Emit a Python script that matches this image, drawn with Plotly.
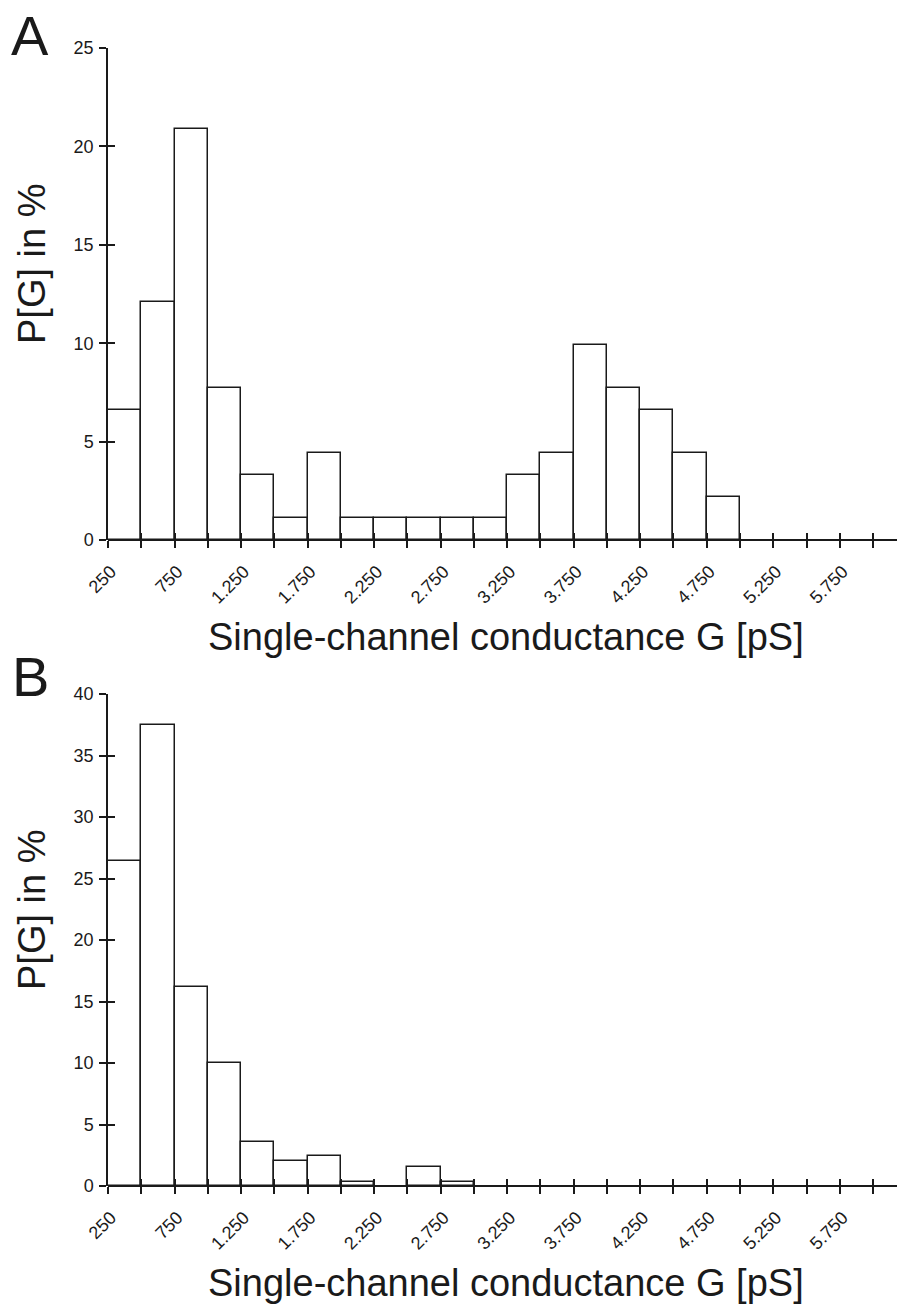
import plotly.graph_objects as go

# ---- data ----
bin_left = [250, 500, 750, 1000, 1250, 1500, 1750, 2000, 2250, 2500, 2750, 3000,
            3250, 3500, 3750, 4000, 4250, 4500, 4750, 5000, 5250, 5500, 5750]
bin_width = 250
panel_a = [6.6, 12.1, 20.9, 7.7, 3.3, 1.1, 4.4, 1.1, 1.1, 1.1, 1.1, 1.1,
           3.3, 4.4, 9.9, 7.7, 6.6, 4.4, 2.2, 0, 0, 0, 0]
panel_b = [26.4, 37.5, 16.2, 10.0, 3.6, 2.0, 2.4, 0.3, 0, 1.55, 0.3, 0,
           0, 0, 0, 0, 0, 0, 0, 0, 0, 0, 0]
x_tickvals = [250, 500, 750, 1000, 1250, 1500, 1750, 2000, 2250, 2500, 2750, 3000,
              3250, 3500, 3750, 4000, 4250, 4500, 4750, 5000, 5250, 5500, 5750, 6000]
x_ticktext = ["250", "", "750", "", "1.250", "", "1.750", "", "2.250", "", "2.750", "",
              "3.250", "", "3.750", "", "4.250", "", "4.750", "", "5.250", "", "5.750", ""]
ya_ticks = [0, 5, 10, 15, 20, 25]
yb_ticks = [0, 5, 10, 15, 20, 25, 30, 35, 40]
x_title = "Single-channel conductance G [pS]"
y_title = "P[G] in %"
panel_labels = ["A", "B"]

# page body has an 8px default margin; lay out in screen pixels and compensate
OFF = 8
W, H = 905 - OFF, 1304 - OFF
FONT = "Liberation Sans, Arial, sans-serif"
INK = "#1a1a1a"
x_range = [250, 6240]

def px(v):
    return (v - OFF) / W

def py(v):
    return (H - (v - OFF)) / H

dom_x = [px(108), 1.0]
dom_a = [py(540), py(48)]
dom_b = [py(1186), py(694)]

fig = go.Figure()
for vals, xa, ya in [(panel_a, "x", "y"), (panel_b, "x2", "y2")]:
    fig.add_trace(go.Bar(
        x=bin_left, y=vals, width=bin_width, offset=0,
        marker=dict(color="white",
                    line=dict(color=INK, width=[1.5 if v > 0 else 0 for v in vals])),
        xaxis=xa, yaxis=ya, showlegend=False, hoverinfo="skip", cliponaxis=False))
# overlay axes (inside tick halves)
fig.add_trace(go.Scatter(x=[], y=[], xaxis="x3", yaxis="y3", showlegend=False))
fig.add_trace(go.Scatter(x=[], y=[], xaxis="x4", yaxis="y4", showlegend=False))

tickfont = dict(family=FONT, size=18, color=INK)

def xaxis_main(anchor):
    # the baseline is drawn as the y-axis zero line, so it coincides with bar bottoms
    return dict(domain=dom_x, anchor=anchor, range=x_range, tickmode="array",
                tickvals=x_tickvals, ticktext=x_ticktext, tickangle=-45,
                ticks="outside", ticklen=7, tickwidth=1.5, tickcolor=INK,
                showline=False, showgrid=False,
                zeroline=False, tickfont=tickfont, ticklabelstandoff=6,
                ticklabelshift=3, automargin=False)

def yaxis_main(anchor, dom, rng, tv):
    return dict(domain=dom, anchor=anchor, range=rng, tickmode="array", tickvals=tv,
                ticks="outside", ticklen=7, tickwidth=1.5, tickcolor=INK,
                showline=True, linecolor=INK, linewidth=1.5, showgrid=False,
                zeroline=True, zerolinecolor=INK, zerolinewidth=1.5,
                tickfont=tickfont, ticklabelstandoff=2, automargin=False)

def xaxis_over(base, anchor):
    return dict(overlaying=base, anchor=anchor, range=x_range, tickmode="array",
                tickvals=x_tickvals, ticks="inside", ticklen=7, tickwidth=1.5,
                tickcolor=INK, showticklabels=False, showline=False, showgrid=False,
                zeroline=False, automargin=False)

def yaxis_over(base, anchor, rng, tv):
    return dict(overlaying=base, anchor=anchor, range=rng, tickmode="array", tickvals=tv,
                ticks="inside", ticklen=7, tickwidth=1.5, tickcolor=INK,
                showticklabels=False, showline=False, showgrid=False, zeroline=False,
                automargin=False)

fig.update_layout(
    template="none",
    width=W, height=H, margin=dict(l=0, r=0, t=0, b=0, pad=0, autoexpand=False),
    paper_bgcolor="white", plot_bgcolor="white", bargap=0, showlegend=False,
    xaxis=xaxis_main("y"),
    yaxis=yaxis_main("x", dom_a, [0, 25], ya_ticks),
    xaxis2=xaxis_main("y2"),
    yaxis2=yaxis_main("x2", dom_b, [0, 40], yb_ticks),
    xaxis3=xaxis_over("x", "y"),
    yaxis3=yaxis_over("y", "x", [0, 25], ya_ticks),
    xaxis4=xaxis_over("x2", "y2"),
    yaxis4=yaxis_over("y2", "x2", [0, 40], yb_ticks),
)

ann = []
for (lab, ly, ty, tx) in [(panel_labels[0], 36, 264, 637), (panel_labels[1], 676, 910, 1283)]:
    ann.append(dict(text=lab, x=px(30), y=py(ly), xref="paper", yref="paper",
                    showarrow=False, xanchor="center", yanchor="middle",
                    font=dict(family=FONT, size=56, color=INK)))
    ann.append(dict(text=y_title, x=px(32), y=py(ty), xref="paper", yref="paper",
                    showarrow=False, textangle=-90, xanchor="center", yanchor="middle",
                    font=dict(family=FONT, size=38, color=INK)))
    ann.append(dict(text=x_title, x=px(506), y=py(tx), xref="paper", yref="paper",
                    showarrow=False, xanchor="center", yanchor="middle",
                    font=dict(family=FONT, size=38, color=INK)))
fig.update_layout(annotations=ann)

fig.write_html("out.html")
